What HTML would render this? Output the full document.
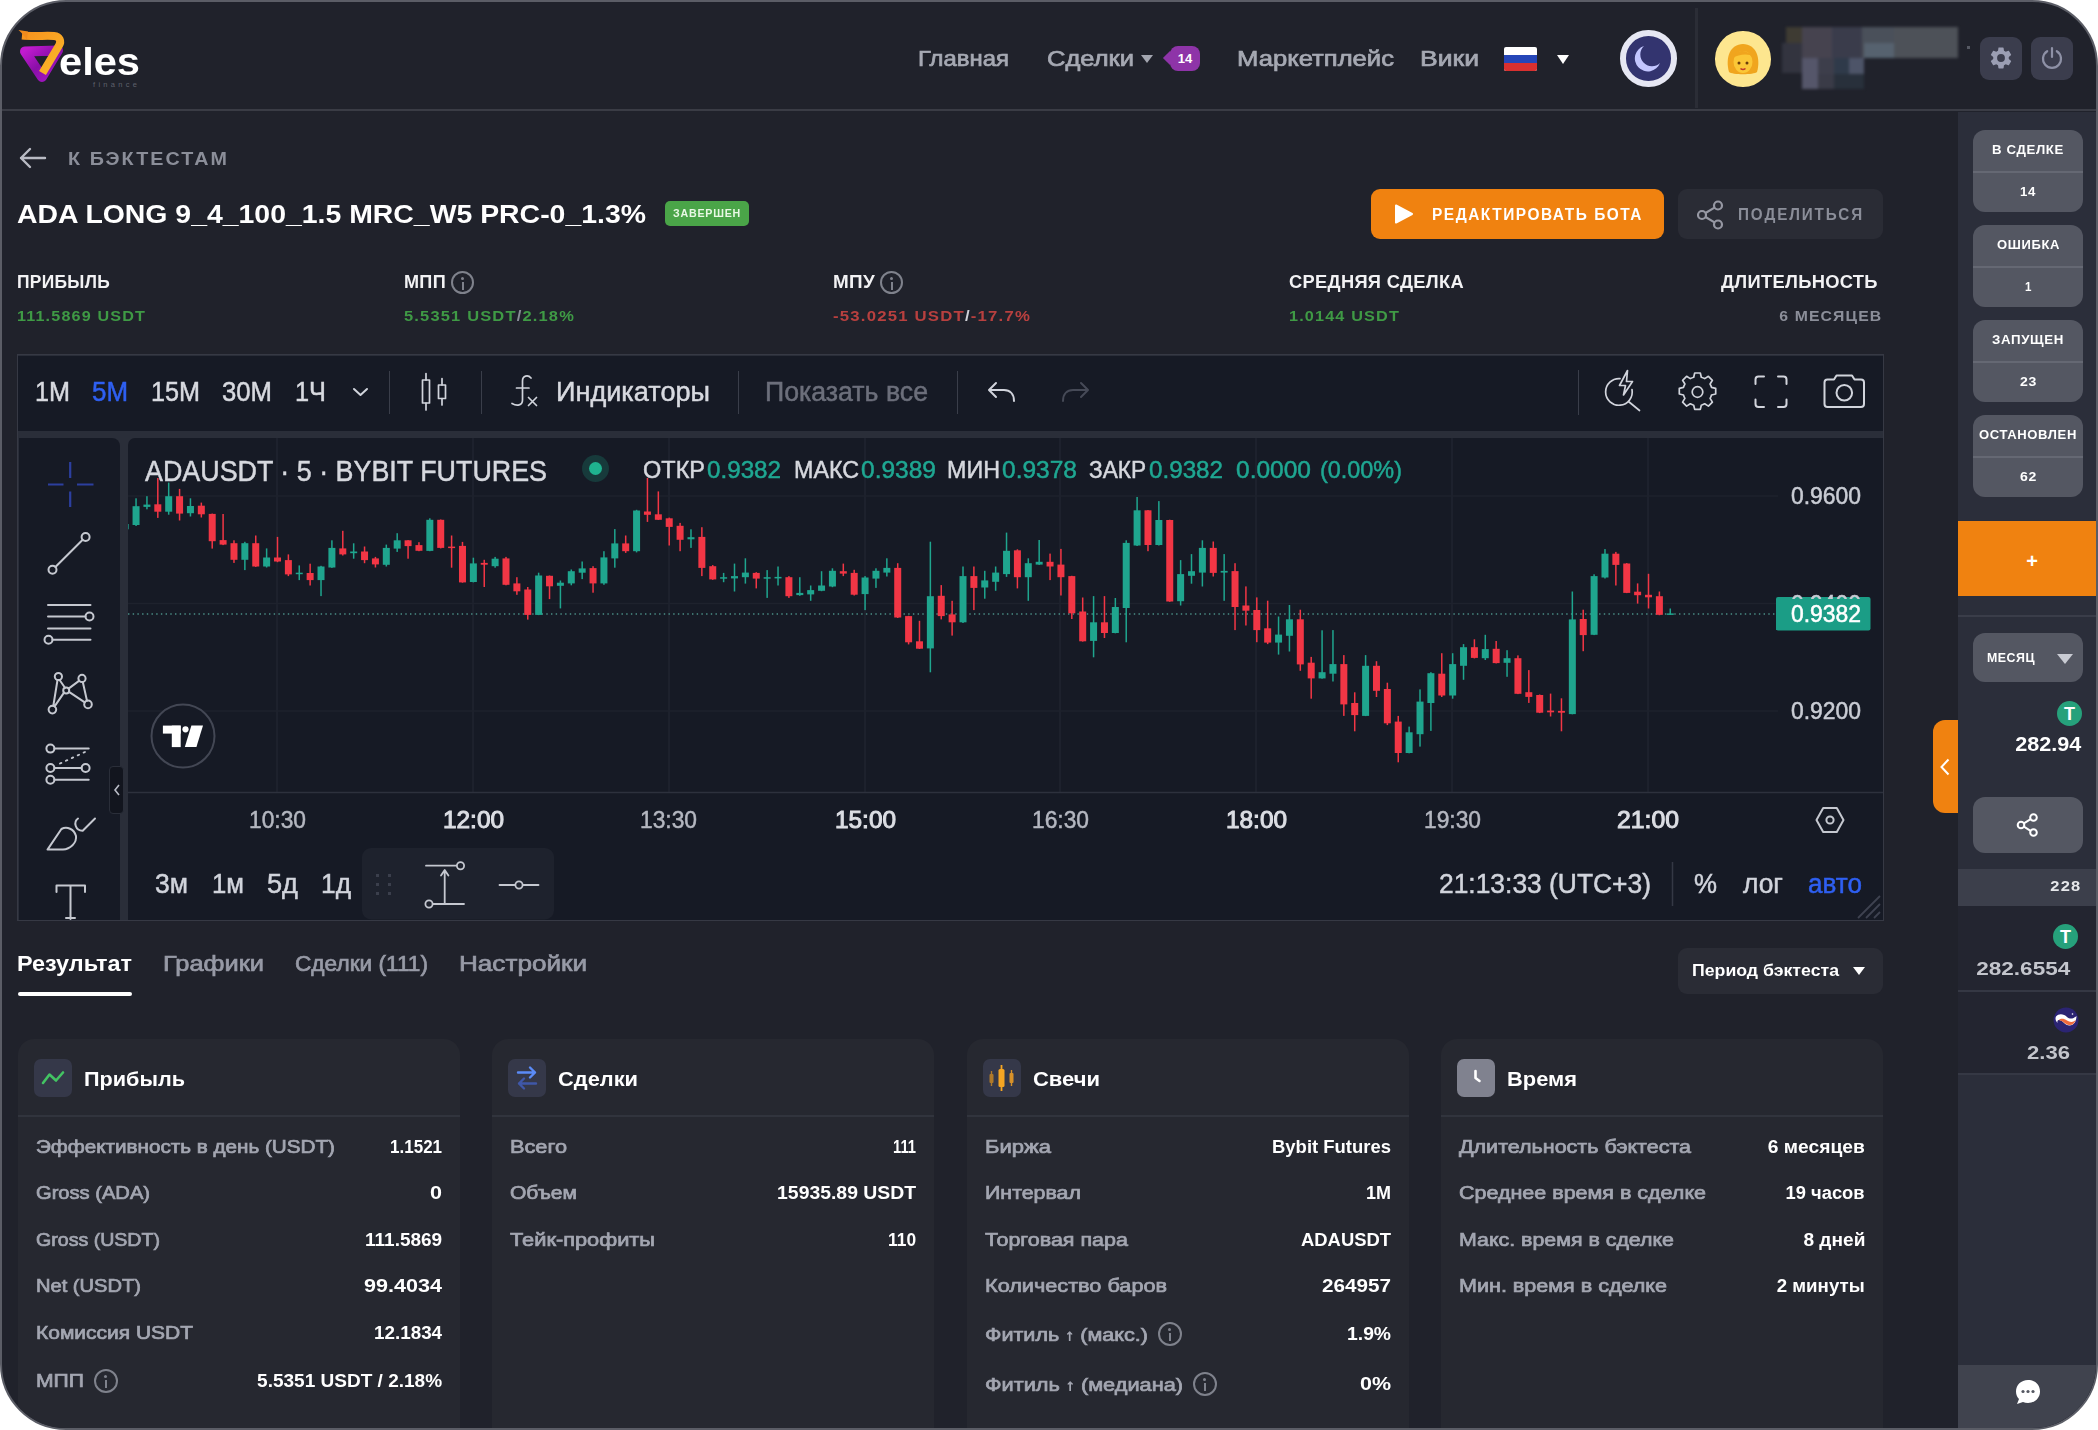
<!DOCTYPE html>
<html lang="ru">
<head>
<meta charset="utf-8">
<title>Veles Finance — бэктест</title>
<style>
*{box-sizing:border-box;margin:0;padding:0}
html,body{width:2098px;height:1430px;background:#fff;overflow:hidden}
body{font-family:"Liberation Sans",sans-serif;color:#fff;position:relative}
#frame{position:absolute;left:0;top:0;width:2098px;height:1430px;border-radius:66px;background:#20222b;border:2px solid #5b5d66;overflow:hidden}
#app{position:absolute;left:-2px;top:-2px;width:2098px;height:1430px}
.abs{position:absolute}
.t{position:absolute;white-space:nowrap;line-height:1}
/* header */
#hdr{position:absolute;left:0;top:0;width:2098px;height:111px;border-bottom:2px solid #3a3c45}
.nav{font-size:22px;color:#a6a9b3;font-weight:400;-webkit-text-stroke:.7px currentColor;top:48px}
/* sidebar */
#side{position:absolute;left:1958px;top:112px;width:140px;height:1320px;background:#2b2e3a}
.pill{position:absolute;left:15px;width:110px;height:82px;border-radius:12px;background:#545762;overflow:hidden}
.pill i{position:absolute;left:0;top:41px;width:100%;height:2px;background:#656873}
.pill b,.pill s{position:absolute;left:50%;white-space:nowrap;font-size:12.5px;font-weight:700;letter-spacing:.6px;text-decoration:none;color:#fff;line-height:1}
.pill b{top:14px}.pill s{top:56px}
/* stats */
.sl{font-size:17.5px;font-weight:700;color:#f2f2f4;letter-spacing:.3px;top:274px}
.sv{font-size:15.5px;font-weight:700;letter-spacing:1.1px;top:308px;color:#3f9a45}
.info{position:absolute;width:23px;height:23px;border:2px solid #7f828c;border-radius:50%}
.info:before{content:"";position:absolute;left:8px;top:4px;width:3px;height:3px;background:#7f828c;border-radius:50%}
.info:after{content:"";position:absolute;left:8.5px;top:8.5px;width:2px;height:8px;background:#7f828c}
/* chart */
#chart{position:absolute;left:17px;top:354px;width:1867px;height:567px;background:#2a2e39;border:1px solid #363944}
#tb{position:absolute;left:0;top:1px;width:1865px;height:75px;background:#161a25}
.tbt{font-size:27px;color:#d8dae0;top:23px;transform-origin:0 50%}
.sep{position:absolute;width:1px;background:#3a3e4a}
#tools{position:absolute;left:1px;top:83px;width:101px;height:482px;background:#161a25;border-radius:0 8px 0 0}
#pane{position:absolute;left:110px;top:83px;width:1755px;height:482px;background:#161a25;overflow:hidden;border-radius:7px 0 0 0}
.pt,.lg,.pa,.ta,.bb,.tbt{-webkit-text-stroke:.5px currentColor}
.lg{font-size:24px;color:#d6d8de;top:20px}
.lg.v{color:#1fa792}
.pa{font-size:23px;color:#c9ccd4;margin-top:.5px}
.ta{font-size:24px;color:#b4b7c0;top:370px}
.ta.hb{color:#dcdee4;-webkit-text-stroke:1px currentColor}
.bb{font-size:27px;color:#d1d4dc;top:433px}
/* tabs */
.tab{font-size:22px;font-weight:400;-webkit-text-stroke:.7px currentColor;color:#979aa6;top:953px}
/* cards */
.card{position:absolute;top:1040px;width:442px;height:420px;background:#262830;border-radius:16px}
.card:before{content:"";position:absolute;left:0;right:0;top:-1.5px;height:40px;background:#262830;border-radius:16px 16px 0 0}
.card .ic{position:absolute;left:16px;top:19px;width:38px;height:38px;border-radius:7px;background:#353849}
.card h3{position:absolute;left:66px;top:28px;font-size:21px;font-weight:700;line-height:1;color:#fff;white-space:nowrap}
.card .hr{position:absolute;left:0;top:75px;width:100%;height:2px;background:#31343d}
.row{position:absolute;left:18px;right:18px;margin-top:1px;height:24px;line-height:25px;font-size:18px;font-weight:700;white-space:nowrap}
.row span{position:absolute;left:0;color:#a3a6b1;font-weight:400;-webkit-text-stroke:.7px currentColor}
.row b{position:absolute;right:0;color:#fff;font-weight:700}
.row .info{width:24px;height:24px;top:0}
</style>
</head>
<body>
<div id="frame"><div id="app">

<!-- ================= HEADER ================= -->
<div id="hdr">
<svg class="abs" style="left:14px;top:24px" width="60" height="66" viewBox="0 0 60 66">
<defs>
<linearGradient id="lgp" x1="0" y1="0" x2="1" y2="1"><stop offset="0" stop-color="#c21bd0"/><stop offset=".5" stop-color="#8a0fa8"/><stop offset="1" stop-color="#a516c4"/></linearGradient>
<linearGradient id="lgo" x1="0" y1="0" x2="1" y2="1"><stop offset="0" stop-color="#f7931e"/><stop offset="1" stop-color="#fbb829"/></linearGradient>
</defs>
<path d="M11 27.5 L44 26.5 L28 53 Z" fill="none" stroke="url(#lgp)" stroke-width="10" stroke-linejoin="round"/>
<path d="M8 11.5 C18 12.5 33 11.5 40 12 C46 12.5 47.5 17.5 45 21.5 L28.5 49" fill="none" stroke="url(#lgo)" stroke-width="8" stroke-linecap="butt" stroke-linejoin="round"/>
<path d="M4.500 6 C8 9 10 12 13 15.500 L14 7.500 Z" fill="#f08a1c"/>
</svg>
<div class="t" style="transform:scaleX(1.0671);transform-origin:0 50%;left:59px;top:42px;font-size:39px;font-weight:700;color:#fff">eles</div>
<div class="t" style="left:93px;top:81px;font-size:7.5px;letter-spacing:3.3px;color:#5f616c">finance</div>

<div class="t nav" style="transform:scaleX(1.0866);transform-origin:0 50%;left:918px">Главная</div>
<div class="t nav" style="transform:scaleX(1.1602);transform-origin:0 50%;left:1047px">Сделки</div>
<div class="abs" style="left:1141px;top:55px;width:0;height:0;border-left:6.5px solid transparent;border-right:6.5px solid transparent;border-top:8px solid #a3a6b0"></div>
<div class="abs" style="left:1165px;top:53px;width:10px;height:10px;background:#8e34a8;transform:rotate(45deg)"></div>
<div class="abs" style="left:1170px;top:46px;width:30px;height:25px;border-radius:8px;background:#8e34a8"></div>
<div class="t" style="left:1170px;top:52px;width:30px;text-align:center;font-size:13px;font-weight:700;color:#fff">14</div>
<div class="t nav" style="transform:scaleX(1.1649);transform-origin:0 50%;left:1237px">Маркетплейс</div>
<div class="t nav" style="transform:scaleX(1.2068);transform-origin:0 50%;left:1420px">Вики</div>
<div class="abs" style="left:1504px;top:47px;width:33px;height:24px;border-radius:2px;overflow:hidden;background:#fff">
<div class="abs" style="left:0;top:8px;width:33px;height:8px;background:#2546b8"></div>
<div class="abs" style="left:0;top:16px;width:33px;height:8px;background:#d8302f"></div></div>
<div class="abs" style="left:1557px;top:55px;width:0;height:0;border-left:6.5px solid transparent;border-right:6.5px solid transparent;border-top:9px solid #fff"></div>

<div class="abs" style="left:1620px;top:30px;width:56.500px;height:56.500px;border-radius:50%;background:#33346f;border:6.500px solid #e6e7f3"></div>
<svg class="abs" style="left:1629px;top:37.500px" width="40" height="40" viewBox="0 0 40 40"><path d="M15 8 A13 13 0 1 0 31 25 A11.5 11.5 0 0 1 15 8 Z" fill="#c3c6ff"/></svg>
<div class="abs" style="left:1694.500px;top:8px;width:3px;height:100px;background:#2b2d36"></div>
<div class="abs" style="left:1715px;top:31px;width:55.500px;height:55.500px;border-radius:50%;background:#fde68f"></div>
<svg class="abs" style="left:1724px;top:38px" width="38" height="40" viewBox="0 0 38 40">
<path d="M5 34 C1 20 6 6 19 6 C32 6 37 20 33 34 C30 37 8 37 5 34 Z" fill="#f0a51e"/>
<ellipse cx="19" cy="24" rx="9.5" ry="11" fill="#fbc737"/>
<path d="M9 20 C12 12 22 10 29 19 C26 15 14 16 9 20 Z" fill="#f0a51e"/>
<circle cx="15" cy="25" r="1.5" fill="#6b3d0c"/><circle cx="23" cy="25" r="1.5" fill="#6b3d0c"/>
<path d="M16.5 30.5 Q19 32.5 21.5 30.5" stroke="#c0392b" stroke-width="1.6" fill="none"/>
</svg>
<!-- blurred (pixelated) user name -->
<div class="abs" style="left:0;top:0;width:2098px;height:110px;filter:blur(1.6px)">
<div class="abs" style="left:1786px;top:27px;width:172px;height:31px;background:#4b4e57"></div>
<div class="abs" style="left:1786px;top:27px;width:16px;height:31px;background:#3e3b33"></div>
<div class="abs" style="left:1802px;top:27px;width:30px;height:31px;background:#46434f"></div>
<div class="abs" style="left:1832px;top:27px;width:30px;height:31px;background:#3a3c4b"></div>
<div class="abs" style="left:1862px;top:27px;width:32px;height:16px;background:#4a505a"></div>
<div class="abs" style="left:1864px;top:43px;width:30px;height:15px;background:#56626f"></div>
<div class="abs" style="left:1894px;top:27px;width:64px;height:31px;background:#4d5158"></div>
<div class="abs" style="left:1782px;top:43px;width:20px;height:30px;background:#33343f"></div>
<div class="abs" style="left:1802px;top:58px;width:62px;height:16px;background:#42434f"></div>
<div class="abs" style="left:1802px;top:58px;width:16px;height:31px;background:#55566a"></div>
<div class="abs" style="left:1818px;top:58px;width:16px;height:16px;background:#3d3e4b"></div>
<div class="abs" style="left:1834px;top:58px;width:15px;height:16px;background:#2f3a4a"></div>
<div class="abs" style="left:1849px;top:58px;width:15px;height:16px;background:#4d5468"></div>
<div class="abs" style="left:1818px;top:74px;width:16px;height:15px;background:#3a3b47"></div>
<div class="abs" style="left:1834px;top:74px;width:30px;height:15px;background:#28303b"></div>
</div>
<div class="abs" style="left:1967px;top:46px;width:3px;height:3px;background:#555862"></div>
<!-- gear / power -->
<div class="abs" style="left:1980px;top:37px;width:42px;height:43px;border-radius:9px;background:#3b3d4d"></div>
<svg class="abs" style="left:1988px;top:45px" width="26" height="26" viewBox="0 0 24 24"><path fill="#9b9eb3" d="M19.14 12.94c.04-.3.06-.61.06-.94 0-.32-.02-.64-.07-.94l2.03-1.58a.49.49 0 0 0 .12-.61l-1.92-3.32a.49.49 0 0 0-.59-.22l-2.39.96c-.5-.38-1.03-.7-1.62-.94l-.36-2.54a.48.48 0 0 0-.48-.41h-3.84c-.24 0-.43.17-.47.41l-.36 2.54c-.59.24-1.13.57-1.62.94l-2.39-.96a.48.48 0 0 0-.59.22L2.74 8.87c-.12.21-.08.47.12.61l2.03 1.58c-.05.3-.09.63-.09.94s.02.64.07.94l-2.03 1.58a.49.49 0 0 0-.12.61l1.92 3.32c.12.22.37.29.59.22l2.39-.96c.5.38 1.03.7 1.62.94l.36 2.54c.05.24.24.41.48.41h3.84c.24 0 .44-.17.47-.41l.36-2.54c.59-.24 1.13-.56 1.62-.94l2.39.96c.22.08.47 0 .59-.22l1.92-3.32c.12-.22.07-.47-.12-.61l-2.01-1.58zM12 15.6A3.6 3.6 0 1 1 12 8.4a3.6 3.6 0 0 1 0 7.2z"/></svg>
<div class="abs" style="left:2031px;top:37px;width:42px;height:43px;border-radius:9px;background:#3b3d4d"></div>
<svg class="abs" style="left:2039px;top:45px" width="26" height="26" viewBox="0 0 26 26"><path d="M8.2 6.2 A9 9 0 1 0 17.8 6.2" fill="none" stroke="#8e91a6" stroke-width="2.2" stroke-linecap="round"/><path d="M13 3 V12" stroke="#8e91a6" stroke-width="2.2" stroke-linecap="round"/></svg>

</div>

<!-- ================= SIDEBAR ================= -->
<div id="side">
<div class="pill" style="top:18px"><b style="transform:scaleX(1.0564);transform-origin:0 50%;margin-left:-36.0px">В СДЕЛКЕ</b><i></i><s style="transform:scaleX(1.0589);transform-origin:0 50%;margin-left:-8.0px">14</s></div>
<div class="pill" style="top:113px"><b style="transform:scaleX(1.0411);transform-origin:0 50%;margin-left:-31.5px">ОШИБКА</b><i></i><s style="transform:scaleX(0.9256);transform-origin:0 50%;margin-left:-3.5px">1</s></div>
<div class="pill" style="top:208px"><b style="transform:scaleX(1.0625);transform-origin:0 50%;margin-left:-36.0px">ЗАПУЩЕН</b><i></i><s style="transform:scaleX(1.1251);transform-origin:0 50%;margin-left:-8.5px">23</s></div>
<div class="pill" style="top:303px"><b style="transform:scaleX(1.0434);transform-origin:0 50%;margin-left:-49.0px">ОСТАНОВЛЕН</b><i></i><s style="transform:scaleX(1.1251);transform-origin:0 50%;margin-left:-8.5px">62</s></div>
<div class="abs" style="left:0;top:409px;width:140px;height:75px;background:#f08210"></div>
<div class="t" style="left:0;top:439px;width:148px;text-align:center;font-size:20px;font-weight:700;color:#fff">+</div>
<div class="abs" style="left:0;top:503px;width:140px;height:2px;background:#3a3d49"></div>
<div class="abs" style="left:15px;top:521px;width:110px;height:49px;border-radius:12px;background:#545762"></div>
<div class="t" style="transform:scaleX(1.0309);transform-origin:0 50%;left:29px;top:540px;font-size:12px;font-weight:700;letter-spacing:.5px;color:#fff">МЕСЯЦ</div>
<div class="abs" style="left:99px;top:542px;width:0;height:0;border-left:8px solid transparent;border-right:8px solid transparent;border-top:10px solid #c9cbd3"></div>
<div class="abs" style="left:99px;top:589px;width:25px;height:25px;border-radius:50%;background:#26a17b"></div>
<div class="t" style="left:99px;top:593px;width:25px;text-align:center;font-size:18px;font-weight:700;color:#fff">T</div>
<div class="t" style="transform:scaleX(1.0789);transform-origin:100% 50%;right:17px;top:622px;font-size:20px;font-weight:700;color:#fff">282.94</div>
<div class="abs" style="left:15px;top:685px;width:110px;height:56px;border-radius:12px;background:#545762"></div>
<svg class="abs" style="left:56px;top:699px" width="28" height="28" viewBox="0 0 28 28" fill="none" stroke="#fff" stroke-width="2"><circle cx="19.5" cy="6.5" r="3.3"/><circle cx="7" cy="14" r="3.3"/><circle cx="19.5" cy="21.5" r="3.3"/><path d="M9.9 12.3 L16.6 8.2 M9.9 15.7 L16.6 19.8"/></svg>
<div class="abs" style="left:0;top:757px;width:140px;height:37px;background:#3c3f4b"></div>
<div class="t" style="transform:scaleX(1.1761);transform-origin:100% 50%;right:17px;top:767px;font-size:14px;font-weight:700;letter-spacing:1px;color:#e6e7ea">228</div>
<div class="abs" style="left:0;top:794px;width:140px;height:168px;background:#232530"></div>
<div class="abs" style="left:95px;top:812px;width:25px;height:25px;border-radius:50%;background:#26a17b"></div>
<div class="t" style="left:95px;top:816px;width:25px;text-align:center;font-size:18px;font-weight:700;color:#fff">T</div>
<div class="t" style="transform:scaleX(1.1861);transform-origin:100% 50%;right:28px;top:847px;font-size:19px;font-weight:700;color:#c3c5cc">282.6554</div>
<div class="abs" style="left:0;top:878px;width:140px;height:2px;background:#353844"></div>
<svg class="abs" style="left:95px;top:895px" width="26" height="26" viewBox="0 0 26 26"><circle cx="13" cy="13" r="12.500" fill="#2b2473"/><path d="M3 9.500 C6 6 11 7 14 10 C17 12.500 20 12 23.500 9 C23.500 14 21 18.500 16.500 18.500 C12 18.500 10 13.500 6.500 13 C5 12.800 4 13.500 4.500 16 C2.500 13.500 2 11.500 3 9.500 Z" fill="#fff"/><path d="M5.500 13.200 C9 12.500 11.500 17 16 18 C19 18.600 21.500 16.500 22.800 13 C20 15.500 17 15.500 14 13.500 C11 11.500 8 11 5.500 13.200 Z" fill="#ef6a3c"/><circle cx="19.500" cy="7" r=".8" fill="#fff"/></svg>
<div class="t" style="transform:scaleX(1.1627);transform-origin:100% 50%;right:28px;top:931px;font-size:19px;font-weight:700;color:#c3c5cc">2.36</div>
<div class="abs" style="left:0;top:961px;width:140px;height:2px;background:#353844"></div>
<div class="abs" style="left:0;top:1253px;width:140px;height:70px;background:#40434e"></div>
<svg class="abs" style="left:56px;top:1266px" width="28" height="28" viewBox="0 0 28 28"><path d="M14 2 C7 2 2 7 2 13.5 C2 16.5 3.2 19.2 5 21 L3 26 L9 24 C10.5 24.7 12.2 25 14 25 C21 25 26 20 26 13.5 C26 7 21 2 14 2 Z" fill="#fff"/><circle cx="9" cy="13.5" r="1.6" fill="#555862"/><circle cx="14" cy="13.5" r="1.6" fill="#555862"/><circle cx="19" cy="13.5" r="1.6" fill="#555862"/></svg>

</div>

<!-- ================= TITLE / STATS ================= -->
<!-- orange side-tab -->
<div class="abs" style="left:1933px;top:720px;width:25px;height:93px;border-radius:12px 0 0 12px;background:#f08210"></div>
<svg class="abs" style="left:1938px;top:757px" width="14" height="20" viewBox="0 0 14 20"><path d="M10.5 2.5 L3.5 10 L10.5 17.5" fill="none" stroke="#fff" stroke-width="2"/></svg>
<!-- back -->
<svg class="abs" style="left:18px;top:146px" width="30" height="24" viewBox="0 0 30 24"><path d="M27 12 H3 M12 3 L3 12 L12 21" fill="none" stroke="#b9bbc4" stroke-width="2.4" stroke-linecap="round" stroke-linejoin="round"/></svg>
<div class="t" style="transform:scaleX(1.0378);transform-origin:0 50%;left:68px;top:149px;font-size:19px;font-weight:700;letter-spacing:2px;color:#8b8e99">К БЭКТЕСТАМ</div>
<div class="t" style="transform:scaleX(1.0721);transform-origin:0 50%;left:17px;top:200.5px;font-size:26.5px;font-weight:700;color:#fff">ADA LONG 9_4_100_1.5 MRC_W5 PRC-0_1.3%</div>
<div class="abs" style="left:665px;top:201px;width:84px;height:25px;border-radius:5px;background:#4aa548"></div>
<div class="t" style="transform:scaleX(0.9688);transform-origin:0 50%;left:673px;top:208px;font-size:11px;font-weight:700;letter-spacing:.8px;color:#e8f8e4">ЗАВЕРШЕН</div>
<!-- buttons -->
<div class="abs" style="left:1371px;top:189px;width:293px;height:50px;border-radius:9px;background:#f08210"></div>
<svg class="abs" style="left:1393px;top:203px" width="22" height="22" viewBox="0 0 22 22"><path d="M3 2.5 L19 11 L3 19.5 Z" fill="#fff" stroke="#fff" stroke-width="2" stroke-linejoin="round"/></svg>
<div class="t" style="transform:scaleX(0.9637);transform-origin:0 50%;left:1432px;top:207px;font-size:16px;font-weight:700;letter-spacing:1.6px;color:#fff">РЕДАКТИРОВАТЬ БОТА</div>
<div class="abs" style="left:1678px;top:189px;width:205px;height:50px;border-radius:9px;background:#2a2c35"></div>
<svg class="abs" style="left:1695px;top:199px" width="32" height="32" viewBox="0 0 32 32" fill="none" stroke="#9698a3" stroke-width="2.2"><circle cx="23" cy="6.5" r="4"/><circle cx="7" cy="16" r="4"/><circle cx="23" cy="25.5" r="4"/><path d="M10.5 14 L19.5 8.6 M10.5 18 L19.5 23.4"/></svg>
<div class="t" style="transform:scaleX(0.9512);transform-origin:0 50%;left:1738px;top:207px;font-size:16px;font-weight:700;letter-spacing:2px;color:#8b8e99">ПОДЕЛИТЬСЯ</div>
<!-- stats -->
<div class="t sl" style="transform:scaleX(0.9947);transform-origin:0 50%;left:17px">ПРИБЫЛЬ</div>
<div class="t sv" style="transform:scaleX(1.0424);transform-origin:0 50%;left:17px">111.5869 USDT</div>
<div class="t sl" style="transform:scaleX(1.0334);transform-origin:0 50%;left:404px">МПП</div><div class="info" style="left:451px;top:271px"></div>
<div class="t sv" style="transform:scaleX(1.0628);transform-origin:0 50%;left:404px">5.5351 USDT<span style="color:#8b8e99">/</span>2.18%</div>
<div class="t sl" style="transform:scaleX(1.0782);transform-origin:0 50%;left:833px">МПУ</div><div class="info" style="left:880px;top:271px"></div>
<div class="t sv" style="transform:scaleX(1.0811);transform-origin:0 50%;left:833px;color:#b8403f">-53.0251 USDT<span style="color:#d0d2d8">/</span>-17.7%</div>
<div class="t sl" style="transform:scaleX(1.0451);transform-origin:0 50%;left:1289px">СРЕДНЯЯ СДЕЛКА</div>
<div class="t sv" style="transform:scaleX(1.0470);transform-origin:0 50%;left:1289px">1.0144 USDT</div>
<div class="t sl" style="transform:scaleX(1.0475);transform-origin:100% 50%;right:220px">ДЛИТЕЛЬНОСТЬ</div>
<div class="t sv" style="transform:scaleX(1.0171);transform-origin:100% 50%;right:216px;color:#8b8e99">6 МЕСЯЦЕВ</div>


<!-- ================= CHART ================= -->
<div id="chart">
<div id="tb">
<div class="t tbt" style="transform:scaleX(0.9329);transform-origin:0 50%;left:17px">1М</div>
<div class="t tbt" style="transform:scaleX(0.9596);transform-origin:0 50%;left:74px;color:#2f60f2">5М</div>
<div class="t tbt" style="transform:scaleX(0.9328);transform-origin:0 50%;left:133px">15М</div>
<div class="t tbt" style="transform:scaleX(0.9518);transform-origin:0 50%;left:204px">30М</div>
<div class="t tbt" style="transform:scaleX(0.9389);transform-origin:0 50%;left:277px">1Ч</div>
<div class="t tbt" style="transform:scaleX(1.0034);transform-origin:0 50%;left:538px">Индикаторы</div>
<div class="t tbt" style="transform:scaleX(0.9888);transform-origin:0 50%;left:747px;color:#6c6f7b">Показать все</div>
<div class="sep" style="left:371px;top:15px;height:43px"></div>
<div class="sep" style="left:463px;top:15px;height:43px"></div>
<div class="sep" style="left:720px;top:15px;height:43px"></div>
<div class="sep" style="left:939px;top:15px;height:43px"></div>
<div class="sep" style="left:1560px;top:14px;height:45px"></div>
<svg class="abs" style="left:0;top:0" width="1865" height="75" viewBox="18 356 1865 75" fill="none" stroke="#d1d4dc" stroke-width="1.7" stroke-linecap="round" stroke-linejoin="round">
<path d="M354 389 L360.5 395 L367 389" stroke-width="2"/>
<!-- candles icon -->
<rect x="422.5" y="380" width="7" height="23" /><path d="M426 373.5 V380 M426 403 V410"/>
<rect x="438.5" y="385" width="7" height="13.500"/><path d="M442 378.500 V385 M442 398.500 V405"/>
<!-- fx -->
<path d="M531 378 C528 374.500 522.500 375.500 522.500 381 V400 C522.500 405.500 517 406.500 512 403.500 M516.500 388 H529"/>
<path d="M528.500 397.500 L536.500 405.500 M536.500 397.500 L528.500 405.500"/>
<!-- undo / redo -->
<path d="M996 383 L989 390 L996 397 M989.500 390 H1004 C1010 390 1014 394 1014 401" stroke-width="2"/>
<path d="M1081 383 L1088 390 L1081 397 M1087.500 390 H1073 C1067 390 1063 394 1063 401" stroke="#464a57" stroke-width="2"/>
<!-- quick search -->
<path d="M1620 378.700 A13.300 13.300 0 1 0 1632 389.500 M1628.500 401.500 L1639.500 410.500"/>
<path d="M1627.500 370.500 L1619.500 385.500 H1625.500 L1623.500 395 L1632.500 381.500 H1626.500 Z" fill="#161a25"/>
<!-- gear -->
<path d="M1694.7 373 h5.600 l1 4.200 a15 15 0 0 1 3.400 1.400 l3.700 -2.300 l4 4 l-2.300 3.700 a15 15 0 0 1 1.400 3.400 l4.200 1 v5.600 l-4.200 1 a15 15 0 0 1 -1.400 3.400 l2.300 3.700 l-4 4 l-3.700 -2.300 a15 15 0 0 1 -3.400 1.400 l-1 4.200 h-5.600 l-1 -4.200 a15 15 0 0 1 -3.400 -1.400 l-3.700 2.300 l-4 -4 l2.300 -3.700 a15 15 0 0 1 -1.400 -3.400 l-4.200 -1 v-5.600 l4.200 -1 a15 15 0 0 1 1.400 -3.400 l-2.300 -3.700 l4 -4 l3.700 2.300 a15 15 0 0 1 3.400 -1.400 z"/>
<circle cx="1697.500" cy="392" r="5.300"/>
<!-- fullscreen -->
<path d="M1755.500 384 V379.500 Q1755.500 376.500 1758.500 376.500 H1764 M1778 376.500 H1783.500 Q1786.500 376.500 1786.500 379.500 V384 M1786.500 399.500 V404 Q1786.500 407 1783.500 407 H1778 M1764 407 H1758.500 Q1755.500 407 1755.500 404 V399.500" stroke-width="2"/>
<!-- camera -->
<path d="M1827.500 379.500 H1834 L1836.500 375.500 H1852 L1854.500 379.500 H1861 Q1864 379.500 1864 382.500 V404 Q1864 407 1861 407 H1827.500 Q1824.500 407 1824.500 404 V382.500 Q1824.500 379.500 1827.500 379.500 Z" stroke-width="2"/>
<circle cx="1844.300" cy="392.700" r="7.800" stroke-width="2"/>
</svg>

</div>
<div id="tools">
<svg class="abs" style="left:0;top:0" width="100" height="482" viewBox="19 438 100 482" fill="none" stroke="#c5c8d0" stroke-width="2" stroke-linecap="round" stroke-linejoin="round">
<path d="M70.200 462 V478 M70.200 491.500 V507 M48 484.500 H63.500 M77 484.500 H93.500" stroke="#2c3f9f" stroke-width="2.2" stroke-linecap="butt"/>
<circle cx="85.600" cy="537" r="4"/><circle cx="52.500" cy="569.800" r="4"/><path d="M55.400 567 L82.700 539.800"/>
<path d="M48 605 H90.500 M48 616.500 H85.500 M48 628.400 H90.500 M52.500 639.800 H90.500"/><circle cx="89.500" cy="616.500" r="4"/><circle cx="48.500" cy="639.800" r="4"/>
<circle cx="58.400" cy="676.500" r="3.600"/><circle cx="82" cy="678.400" r="3.600"/><circle cx="66.200" cy="690.400" r="3"/><circle cx="52.400" cy="709.600" r="3.800"/><circle cx="88" cy="704.400" r="3.800"/>
<path d="M57.500 680 L53.300 706 M59.600 680 L65 687.800 M68.600 688.600 L79.300 680.600 M82.800 682 L87 700.800 M69 691.800 L84.800 702.400 M64 692.600 L54.600 706.400"/>
<circle cx="50.400" cy="748.600" r="4"/><path d="M54.400 748.600 H88.700"/><circle cx="50.400" cy="768" r="4"/><circle cx="85.600" cy="768" r="4"/><path d="M54.400 768 H81.600"/><circle cx="50.400" cy="779.700" r="4"/><path d="M54.400 779.700 H88.700"/>
<path d="M60 763.500 L85 752" stroke-dasharray="1.500 5" stroke-width="1.800"/>
<path d="M47.500 849.600 L61.400 829 C67 826 74 829 76 836 C77 843 70 849 63 849.600 Z"/>
<path d="M78 818.500 C73 822 75.500 831 82.700 830.800 L95 818.500"/>
<path d="M56.500 892 V885.600 H85 V892 M70.500 885.600 V919 M66 918 H75" stroke-width="2"/>
</svg>

</div>
<div class="abs" style="left:91px;top:411px;width:15px;height:48px;border-radius:4px;background:#12151e;border:1px solid #2a2e39;z-index:3"></div>
<svg class="abs" style="left:94px;top:427px;z-index:4" width="10" height="16" viewBox="0 0 10 16"><path d="M7 3 L3 8 L7 13" fill="none" stroke="#b9bcc6" stroke-width="1.600"/></svg>
<div id="pane">
<svg class="abs" style="left:0;top:0" width="1755" height="482" viewBox="128 438 1755 482">
<g stroke="#222632" stroke-width="1.3">
<path d="M277 438V792M473 438V792M669 438V792M865 438V792M1060 438V792M1256 438V792M1452 438V792M1648 438V792"/>
<path d="M128 496H1778M128 603.500H1778M128 711H1778" stroke="#1e222d"/>
</g>
<path d="M128 792.500H1883" stroke="#2d313d" stroke-width="1.500"/>
<path d="M128 614H1776" stroke="#4b8f87" stroke-width="1.300" stroke-dasharray="1.400 3.300"/>
<g>
<rect x="124.42" y="522.6" width="1.5" height="8.2" fill="#1fa58e"/>
<rect x="121.67" y="524.0" width="7" height="5.3" fill="#1fa58e"/>
<rect x="135.30" y="498.3" width="1.5" height="27.7" fill="#1fa58e"/>
<rect x="132.55" y="506.2" width="7" height="18.8" fill="#1fa58e"/>
<rect x="146.18" y="496.2" width="1.5" height="13.1" fill="#1fa58e"/>
<rect x="143.43" y="504.6" width="7" height="2.3" fill="#1fa58e"/>
<rect x="157.06" y="478.0" width="1.5" height="39.9" fill="#f23645"/>
<rect x="154.31" y="504.3" width="7" height="7.4" fill="#f23645"/>
<rect x="167.94" y="482.6" width="1.5" height="32.1" fill="#1fa58e"/>
<rect x="165.19" y="496.2" width="7" height="15.5" fill="#1fa58e"/>
<rect x="178.82" y="488.9" width="1.5" height="31.6" fill="#f23645"/>
<rect x="176.07" y="496.2" width="7" height="17.4" fill="#f23645"/>
<rect x="189.70" y="498.3" width="1.5" height="18.2" fill="#1fa58e"/>
<rect x="186.95" y="506.0" width="7" height="7.2" fill="#1fa58e"/>
<rect x="200.58" y="502.6" width="1.5" height="14.9" fill="#f23645"/>
<rect x="197.83" y="505.7" width="7" height="8.6" fill="#f23645"/>
<rect x="211.46" y="513.6" width="1.5" height="35.0" fill="#f23645"/>
<rect x="208.71" y="513.9" width="7" height="27.3" fill="#f23645"/>
<rect x="222.34" y="514.0" width="1.5" height="31.1" fill="#f23645"/>
<rect x="219.59" y="540.1" width="7" height="4.5" fill="#f23645"/>
<rect x="233.23" y="540.3" width="1.5" height="22.6" fill="#f23645"/>
<rect x="230.48" y="543.2" width="7" height="16.6" fill="#f23645"/>
<rect x="244.11" y="541.8" width="1.5" height="28.3" fill="#1fa58e"/>
<rect x="241.36" y="543.2" width="7" height="16.6" fill="#1fa58e"/>
<rect x="254.99" y="535.5" width="1.5" height="31.4" fill="#f23645"/>
<rect x="252.24" y="543.2" width="7" height="23.3" fill="#f23645"/>
<rect x="265.87" y="548.4" width="1.5" height="19.1" fill="#1fa58e"/>
<rect x="263.12" y="557.5" width="7" height="9.0" fill="#1fa58e"/>
<rect x="276.75" y="536.9" width="1.5" height="25.3" fill="#f23645"/>
<rect x="274.00" y="557.5" width="7" height="4.0" fill="#f23645"/>
<rect x="287.63" y="554.4" width="1.5" height="21.7" fill="#f23645"/>
<rect x="284.88" y="560.1" width="7" height="14.3" fill="#f23645"/>
<rect x="298.51" y="565.4" width="1.5" height="14.7" fill="#1fa58e"/>
<rect x="295.76" y="572.7" width="7" height="1.5" fill="#1fa58e"/>
<rect x="309.39" y="563.7" width="1.5" height="21.8" fill="#f23645"/>
<rect x="306.64" y="573.0" width="7" height="7.1" fill="#f23645"/>
<rect x="320.27" y="565.8" width="1.5" height="30.3" fill="#1fa58e"/>
<rect x="317.52" y="566.5" width="7" height="13.6" fill="#1fa58e"/>
<rect x="331.15" y="540.3" width="1.5" height="27.6" fill="#1fa58e"/>
<rect x="328.40" y="547.9" width="7" height="19.6" fill="#1fa58e"/>
<rect x="342.04" y="530.8" width="1.5" height="24.7" fill="#f23645"/>
<rect x="339.29" y="548.4" width="7" height="6.0" fill="#f23645"/>
<rect x="352.92" y="543.3" width="1.5" height="15.4" fill="#1fa58e"/>
<rect x="350.17" y="551.5" width="7" height="1.7" fill="#1fa58e"/>
<rect x="363.80" y="546.5" width="1.5" height="16.7" fill="#f23645"/>
<rect x="361.05" y="551.5" width="7" height="8.6" fill="#f23645"/>
<rect x="374.68" y="556.9" width="1.5" height="10.6" fill="#f23645"/>
<rect x="371.93" y="558.4" width="7" height="6.0" fill="#f23645"/>
<rect x="385.56" y="544.6" width="1.5" height="21.9" fill="#1fa58e"/>
<rect x="382.81" y="547.9" width="7" height="16.9" fill="#1fa58e"/>
<rect x="396.44" y="533.2" width="1.5" height="18.7" fill="#1fa58e"/>
<rect x="393.69" y="540.3" width="7" height="8.3" fill="#1fa58e"/>
<rect x="407.32" y="540.1" width="1.5" height="18.6" fill="#f23645"/>
<rect x="404.57" y="540.3" width="7" height="5.8" fill="#f23645"/>
<rect x="418.20" y="542.2" width="1.5" height="9.0" fill="#f23645"/>
<rect x="415.45" y="545.1" width="7" height="5.7" fill="#f23645"/>
<rect x="429.08" y="518.3" width="1.5" height="32.9" fill="#1fa58e"/>
<rect x="426.33" y="519.8" width="7" height="31.1" fill="#1fa58e"/>
<rect x="439.97" y="519.5" width="1.5" height="28.9" fill="#f23645"/>
<rect x="437.22" y="519.8" width="7" height="28.1" fill="#f23645"/>
<rect x="450.85" y="535.5" width="1.5" height="32.2" fill="#f23645"/>
<rect x="448.10" y="546.6" width="7" height="1.5" fill="#f23645"/>
<rect x="461.73" y="541.9" width="1.5" height="40.8" fill="#f23645"/>
<rect x="458.98" y="545.9" width="7" height="36.5" fill="#f23645"/>
<rect x="472.61" y="557.7" width="1.5" height="24.7" fill="#1fa58e"/>
<rect x="469.86" y="563.4" width="7" height="18.6" fill="#1fa58e"/>
<rect x="483.49" y="559.8" width="1.5" height="27.2" fill="#f23645"/>
<rect x="480.74" y="562.9" width="7" height="1.8" fill="#f23645"/>
<rect x="494.37" y="556.9" width="1.5" height="10.8" fill="#1fa58e"/>
<rect x="491.62" y="558.7" width="7" height="7.5" fill="#1fa58e"/>
<rect x="505.25" y="556.9" width="1.5" height="28.4" fill="#f23645"/>
<rect x="502.50" y="558.4" width="7" height="26.4" fill="#f23645"/>
<rect x="516.13" y="577.2" width="1.5" height="17.6" fill="#f23645"/>
<rect x="513.38" y="583.4" width="7" height="7.9" fill="#f23645"/>
<rect x="527.01" y="587.0" width="1.5" height="32.6" fill="#f23645"/>
<rect x="524.26" y="589.5" width="7" height="25.4" fill="#f23645"/>
<rect x="537.89" y="572.7" width="1.5" height="42.4" fill="#1fa58e"/>
<rect x="535.14" y="575.5" width="7" height="39.4" fill="#1fa58e"/>
<rect x="548.77" y="575.5" width="1.5" height="23.6" fill="#f23645"/>
<rect x="546.02" y="575.8" width="7" height="10.5" fill="#f23645"/>
<rect x="559.66" y="580.5" width="1.5" height="27.9" fill="#1fa58e"/>
<rect x="556.91" y="582.7" width="7" height="3.1" fill="#1fa58e"/>
<rect x="570.54" y="569.5" width="1.5" height="15.8" fill="#1fa58e"/>
<rect x="567.79" y="571.2" width="7" height="12.2" fill="#1fa58e"/>
<rect x="581.42" y="561.5" width="1.5" height="17.6" fill="#1fa58e"/>
<rect x="578.67" y="568.4" width="7" height="4.3" fill="#1fa58e"/>
<rect x="592.30" y="566.2" width="1.5" height="26.5" fill="#f23645"/>
<rect x="589.55" y="568.1" width="7" height="15.3" fill="#f23645"/>
<rect x="603.18" y="551.2" width="1.5" height="33.6" fill="#1fa58e"/>
<rect x="600.43" y="557.4" width="7" height="26.0" fill="#1fa58e"/>
<rect x="614.06" y="529.1" width="1.5" height="38.6" fill="#1fa58e"/>
<rect x="611.31" y="543.4" width="7" height="15.0" fill="#1fa58e"/>
<rect x="624.94" y="535.5" width="1.5" height="17.4" fill="#f23645"/>
<rect x="622.19" y="543.4" width="7" height="7.8" fill="#f23645"/>
<rect x="635.82" y="509.8" width="1.5" height="42.6" fill="#1fa58e"/>
<rect x="633.07" y="510.5" width="7" height="40.7" fill="#1fa58e"/>
<rect x="646.70" y="478.0" width="1.5" height="43.9" fill="#f23645"/>
<rect x="643.95" y="511.5" width="7" height="3.3" fill="#f23645"/>
<rect x="657.59" y="491.4" width="1.5" height="28.6" fill="#f23645"/>
<rect x="654.84" y="514.3" width="7" height="5.5" fill="#f23645"/>
<rect x="668.47" y="517.6" width="1.5" height="27.9" fill="#f23645"/>
<rect x="665.72" y="518.3" width="7" height="8.6" fill="#f23645"/>
<rect x="679.35" y="522.9" width="1.5" height="28.3" fill="#f23645"/>
<rect x="676.60" y="525.8" width="7" height="14.0" fill="#f23645"/>
<rect x="690.23" y="529.3" width="1.5" height="18.6" fill="#1fa58e"/>
<rect x="687.48" y="537.2" width="7" height="2.1" fill="#1fa58e"/>
<rect x="701.11" y="527.2" width="1.5" height="48.9" fill="#f23645"/>
<rect x="698.36" y="536.9" width="7" height="31.0" fill="#f23645"/>
<rect x="711.99" y="565.1" width="1.5" height="14.7" fill="#f23645"/>
<rect x="709.24" y="566.2" width="7" height="13.2" fill="#f23645"/>
<rect x="722.87" y="572.9" width="1.5" height="9.3" fill="#1fa58e"/>
<rect x="720.12" y="577.2" width="7" height="1.5" fill="#1fa58e"/>
<rect x="733.75" y="563.6" width="1.5" height="27.9" fill="#1fa58e"/>
<rect x="731.00" y="576.1" width="7" height="2.3" fill="#1fa58e"/>
<rect x="744.63" y="558.3" width="1.5" height="25.3" fill="#1fa58e"/>
<rect x="741.88" y="572.6" width="7" height="4.6" fill="#1fa58e"/>
<rect x="755.51" y="572.2" width="1.5" height="16.2" fill="#f23645"/>
<rect x="752.76" y="572.9" width="7" height="5.7" fill="#f23645"/>
<rect x="766.39" y="570.1" width="1.5" height="27.8" fill="#1fa58e"/>
<rect x="763.64" y="577.2" width="7" height="1.5" fill="#1fa58e"/>
<rect x="777.28" y="566.5" width="1.5" height="19.0" fill="#1fa58e"/>
<rect x="774.53" y="576.9" width="7" height="1.5" fill="#1fa58e"/>
<rect x="788.16" y="576.1" width="1.5" height="21.8" fill="#f23645"/>
<rect x="785.41" y="577.2" width="7" height="19.0" fill="#f23645"/>
<rect x="799.04" y="577.2" width="1.5" height="18.6" fill="#1fa58e"/>
<rect x="796.29" y="592.9" width="7" height="2.2" fill="#1fa58e"/>
<rect x="809.92" y="585.5" width="1.5" height="15.3" fill="#1fa58e"/>
<rect x="807.17" y="590.1" width="7" height="4.3" fill="#1fa58e"/>
<rect x="820.80" y="571.2" width="1.5" height="20.0" fill="#1fa58e"/>
<rect x="818.05" y="585.5" width="7" height="5.3" fill="#1fa58e"/>
<rect x="831.68" y="568.3" width="1.5" height="18.9" fill="#1fa58e"/>
<rect x="828.93" y="570.8" width="7" height="15.7" fill="#1fa58e"/>
<rect x="842.56" y="563.6" width="1.5" height="12.5" fill="#f23645"/>
<rect x="839.81" y="571.2" width="7" height="2.4" fill="#f23645"/>
<rect x="853.44" y="569.8" width="1.5" height="25.7" fill="#f23645"/>
<rect x="850.69" y="572.9" width="7" height="21.8" fill="#f23645"/>
<rect x="864.32" y="576.1" width="1.5" height="34.0" fill="#1fa58e"/>
<rect x="861.57" y="577.5" width="7" height="16.6" fill="#1fa58e"/>
<rect x="875.21" y="568.3" width="1.5" height="19.6" fill="#1fa58e"/>
<rect x="872.46" y="570.8" width="7" height="7.8" fill="#1fa58e"/>
<rect x="886.09" y="558.3" width="1.5" height="18.2" fill="#1fa58e"/>
<rect x="883.34" y="567.9" width="7" height="4.7" fill="#1fa58e"/>
<rect x="896.97" y="563.2" width="1.5" height="54.8" fill="#f23645"/>
<rect x="894.22" y="567.9" width="7" height="49.6" fill="#f23645"/>
<rect x="907.85" y="615.8" width="1.5" height="28.6" fill="#f23645"/>
<rect x="905.10" y="616.1" width="7" height="26.2" fill="#f23645"/>
<rect x="918.73" y="620.8" width="1.5" height="28.2" fill="#f23645"/>
<rect x="915.98" y="641.3" width="7" height="7.4" fill="#f23645"/>
<rect x="929.61" y="541.7" width="1.5" height="130.6" fill="#1fa58e"/>
<rect x="926.86" y="596.2" width="7" height="52.2" fill="#1fa58e"/>
<rect x="940.49" y="585.1" width="1.5" height="34.3" fill="#f23645"/>
<rect x="937.74" y="595.8" width="7" height="20.3" fill="#f23645"/>
<rect x="951.37" y="600.8" width="1.5" height="34.8" fill="#f23645"/>
<rect x="948.62" y="614.4" width="7" height="7.9" fill="#f23645"/>
<rect x="962.25" y="566.5" width="1.5" height="56.5" fill="#1fa58e"/>
<rect x="959.50" y="576.1" width="7" height="46.2" fill="#1fa58e"/>
<rect x="973.13" y="566.5" width="1.5" height="43.6" fill="#f23645"/>
<rect x="970.38" y="576.1" width="7" height="11.8" fill="#f23645"/>
<rect x="984.01" y="570.8" width="1.5" height="27.9" fill="#1fa58e"/>
<rect x="981.26" y="580.4" width="7" height="7.1" fill="#1fa58e"/>
<rect x="994.90" y="566.5" width="1.5" height="24.3" fill="#1fa58e"/>
<rect x="992.15" y="572.6" width="7" height="9.2" fill="#1fa58e"/>
<rect x="1005.78" y="532.6" width="1.5" height="44.3" fill="#1fa58e"/>
<rect x="1003.03" y="550.8" width="7" height="23.3" fill="#1fa58e"/>
<rect x="1016.66" y="549.3" width="1.5" height="39.1" fill="#f23645"/>
<rect x="1013.91" y="550.3" width="7" height="26.9" fill="#f23645"/>
<rect x="1027.54" y="558.3" width="1.5" height="42.5" fill="#1fa58e"/>
<rect x="1024.79" y="563.2" width="7" height="14.0" fill="#1fa58e"/>
<rect x="1038.42" y="540.0" width="1.5" height="24.9" fill="#1fa58e"/>
<rect x="1035.67" y="561.8" width="7" height="2.8" fill="#1fa58e"/>
<rect x="1049.30" y="553.6" width="1.5" height="26.5" fill="#f23645"/>
<rect x="1046.55" y="561.8" width="7" height="4.7" fill="#f23645"/>
<rect x="1060.18" y="548.9" width="1.5" height="46.6" fill="#f23645"/>
<rect x="1057.43" y="564.6" width="7" height="12.6" fill="#f23645"/>
<rect x="1071.06" y="575.8" width="1.5" height="43.2" fill="#f23645"/>
<rect x="1068.31" y="576.1" width="7" height="37.2" fill="#f23645"/>
<rect x="1081.94" y="597.5" width="1.5" height="44.1" fill="#f23645"/>
<rect x="1079.19" y="611.5" width="7" height="29.8" fill="#f23645"/>
<rect x="1092.83" y="596.1" width="1.5" height="61.2" fill="#1fa58e"/>
<rect x="1090.08" y="622.3" width="7" height="18.6" fill="#1fa58e"/>
<rect x="1103.71" y="596.1" width="1.5" height="41.9" fill="#f23645"/>
<rect x="1100.96" y="622.3" width="7" height="10.7" fill="#f23645"/>
<rect x="1114.59" y="598.0" width="1.5" height="35.3" fill="#1fa58e"/>
<rect x="1111.84" y="607.0" width="7" height="26.0" fill="#1fa58e"/>
<rect x="1125.47" y="540.3" width="1.5" height="102.0" fill="#1fa58e"/>
<rect x="1122.72" y="542.9" width="7" height="65.1" fill="#1fa58e"/>
<rect x="1136.35" y="497.0" width="1.5" height="49.0" fill="#1fa58e"/>
<rect x="1133.60" y="510.3" width="7" height="35.2" fill="#1fa58e"/>
<rect x="1147.23" y="510.0" width="1.5" height="41.2" fill="#f23645"/>
<rect x="1144.48" y="510.3" width="7" height="34.7" fill="#f23645"/>
<rect x="1158.11" y="501.1" width="1.5" height="44.4" fill="#1fa58e"/>
<rect x="1155.36" y="520.0" width="7" height="25.0" fill="#1fa58e"/>
<rect x="1168.99" y="519.7" width="1.5" height="82.1" fill="#f23645"/>
<rect x="1166.24" y="520.0" width="7" height="81.5" fill="#f23645"/>
<rect x="1179.87" y="560.1" width="1.5" height="45.4" fill="#1fa58e"/>
<rect x="1177.12" y="574.1" width="7" height="27.1" fill="#1fa58e"/>
<rect x="1190.75" y="554.1" width="1.5" height="29.6" fill="#1fa58e"/>
<rect x="1188.00" y="571.2" width="7" height="4.6" fill="#1fa58e"/>
<rect x="1201.63" y="540.3" width="1.5" height="46.2" fill="#1fa58e"/>
<rect x="1198.88" y="547.9" width="7" height="24.7" fill="#1fa58e"/>
<rect x="1212.52" y="541.5" width="1.5" height="35.0" fill="#f23645"/>
<rect x="1209.77" y="547.9" width="7" height="25.0" fill="#f23645"/>
<rect x="1223.40" y="554.1" width="1.5" height="46.7" fill="#1fa58e"/>
<rect x="1220.65" y="570.9" width="7" height="1.7" fill="#1fa58e"/>
<rect x="1234.28" y="563.2" width="1.5" height="66.9" fill="#f23645"/>
<rect x="1231.53" y="571.1" width="7" height="35.9" fill="#f23645"/>
<rect x="1245.16" y="586.4" width="1.5" height="39.1" fill="#f23645"/>
<rect x="1242.41" y="605.5" width="7" height="5.2" fill="#f23645"/>
<rect x="1256.04" y="597.4" width="1.5" height="44.8" fill="#f23645"/>
<rect x="1253.29" y="610.0" width="7" height="20.1" fill="#f23645"/>
<rect x="1266.92" y="600.7" width="1.5" height="43.4" fill="#f23645"/>
<rect x="1264.17" y="628.3" width="7" height="14.3" fill="#f23645"/>
<rect x="1277.80" y="616.5" width="1.5" height="38.1" fill="#1fa58e"/>
<rect x="1275.05" y="634.6" width="7" height="8.0" fill="#1fa58e"/>
<rect x="1288.68" y="605.0" width="1.5" height="46.5" fill="#1fa58e"/>
<rect x="1285.93" y="619.3" width="7" height="16.5" fill="#1fa58e"/>
<rect x="1299.56" y="609.7" width="1.5" height="61.1" fill="#f23645"/>
<rect x="1296.81" y="619.3" width="7" height="45.1" fill="#f23645"/>
<rect x="1310.44" y="656.9" width="1.5" height="41.8" fill="#f23645"/>
<rect x="1307.69" y="662.7" width="7" height="15.7" fill="#f23645"/>
<rect x="1321.33" y="630.3" width="1.5" height="48.4" fill="#1fa58e"/>
<rect x="1318.58" y="672.2" width="7" height="6.2" fill="#1fa58e"/>
<rect x="1332.21" y="630.1" width="1.5" height="51.4" fill="#1fa58e"/>
<rect x="1329.46" y="664.1" width="7" height="9.6" fill="#1fa58e"/>
<rect x="1343.09" y="655.1" width="1.5" height="60.8" fill="#f23645"/>
<rect x="1340.34" y="664.1" width="7" height="40.3" fill="#f23645"/>
<rect x="1353.97" y="692.3" width="1.5" height="39.0" fill="#f23645"/>
<rect x="1351.22" y="703.0" width="7" height="12.1" fill="#f23645"/>
<rect x="1364.85" y="655.1" width="1.5" height="61.0" fill="#1fa58e"/>
<rect x="1362.10" y="665.8" width="7" height="50.1" fill="#1fa58e"/>
<rect x="1375.73" y="661.2" width="1.5" height="35.8" fill="#f23645"/>
<rect x="1372.98" y="665.8" width="7" height="25.0" fill="#f23645"/>
<rect x="1386.61" y="682.7" width="1.5" height="42.4" fill="#f23645"/>
<rect x="1383.86" y="689.0" width="7" height="34.3" fill="#f23645"/>
<rect x="1397.49" y="715.9" width="1.5" height="46.4" fill="#f23645"/>
<rect x="1394.74" y="721.6" width="7" height="31.4" fill="#f23645"/>
<rect x="1408.37" y="726.6" width="1.5" height="26.7" fill="#1fa58e"/>
<rect x="1405.62" y="732.3" width="7" height="20.7" fill="#1fa58e"/>
<rect x="1419.26" y="689.4" width="1.5" height="57.2" fill="#1fa58e"/>
<rect x="1416.51" y="701.6" width="7" height="32.6" fill="#1fa58e"/>
<rect x="1430.14" y="672.2" width="1.5" height="58.7" fill="#1fa58e"/>
<rect x="1427.39" y="673.2" width="7" height="29.8" fill="#1fa58e"/>
<rect x="1441.02" y="653.2" width="1.5" height="43.8" fill="#f23645"/>
<rect x="1438.27" y="673.7" width="7" height="21.8" fill="#f23645"/>
<rect x="1451.90" y="653.2" width="1.5" height="45.5" fill="#1fa58e"/>
<rect x="1449.15" y="664.1" width="7" height="31.4" fill="#1fa58e"/>
<rect x="1462.78" y="644.1" width="1.5" height="35.7" fill="#1fa58e"/>
<rect x="1460.03" y="647.2" width="7" height="18.6" fill="#1fa58e"/>
<rect x="1473.66" y="639.3" width="1.5" height="19.1" fill="#f23645"/>
<rect x="1470.91" y="647.2" width="7" height="10.7" fill="#f23645"/>
<rect x="1484.54" y="634.8" width="1.5" height="25.2" fill="#1fa58e"/>
<rect x="1481.79" y="649.1" width="7" height="9.1" fill="#1fa58e"/>
<rect x="1495.42" y="641.0" width="1.5" height="22.4" fill="#f23645"/>
<rect x="1492.67" y="648.8" width="7" height="14.3" fill="#f23645"/>
<rect x="1506.30" y="650.2" width="1.5" height="26.6" fill="#1fa58e"/>
<rect x="1503.55" y="658.2" width="7" height="4.6" fill="#1fa58e"/>
<rect x="1517.18" y="655.4" width="1.5" height="38.7" fill="#f23645"/>
<rect x="1514.43" y="658.2" width="7" height="35.6" fill="#f23645"/>
<rect x="1528.07" y="670.1" width="1.5" height="32.8" fill="#f23645"/>
<rect x="1525.32" y="692.2" width="7" height="4.7" fill="#f23645"/>
<rect x="1538.95" y="694.5" width="1.5" height="18.6" fill="#f23645"/>
<rect x="1536.20" y="695.0" width="7" height="17.7" fill="#f23645"/>
<rect x="1549.83" y="693.6" width="1.5" height="22.9" fill="#f23645"/>
<rect x="1547.08" y="710.6" width="7" height="1.7" fill="#f23645"/>
<rect x="1560.71" y="698.3" width="1.5" height="33.0" fill="#f23645"/>
<rect x="1557.96" y="710.9" width="7" height="1.8" fill="#f23645"/>
<rect x="1571.59" y="591.5" width="1.5" height="122.8" fill="#1fa58e"/>
<rect x="1568.84" y="619.4" width="7" height="94.7" fill="#1fa58e"/>
<rect x="1582.47" y="609.7" width="1.5" height="41.5" fill="#f23645"/>
<rect x="1579.72" y="619.0" width="7" height="16.1" fill="#f23645"/>
<rect x="1593.35" y="574.3" width="1.5" height="60.8" fill="#1fa58e"/>
<rect x="1590.60" y="576.1" width="7" height="58.7" fill="#1fa58e"/>
<rect x="1604.23" y="549.1" width="1.5" height="29.4" fill="#1fa58e"/>
<rect x="1601.48" y="553.7" width="7" height="23.8" fill="#1fa58e"/>
<rect x="1615.11" y="551.9" width="1.5" height="33.6" fill="#f23645"/>
<rect x="1612.36" y="553.7" width="7" height="11.2" fill="#f23645"/>
<rect x="1625.99" y="563.1" width="1.5" height="30.0" fill="#f23645"/>
<rect x="1623.24" y="563.5" width="7" height="29.4" fill="#f23645"/>
<rect x="1636.87" y="583.4" width="1.5" height="20.2" fill="#f23645"/>
<rect x="1634.12" y="591.7" width="7" height="3.5" fill="#f23645"/>
<rect x="1647.76" y="573.8" width="1.5" height="34.7" fill="#f23645"/>
<rect x="1645.01" y="594.8" width="7" height="2.5" fill="#f23645"/>
<rect x="1658.64" y="591.5" width="1.5" height="23.7" fill="#f23645"/>
<rect x="1655.89" y="596.2" width="7" height="18.6" fill="#f23645"/>
<rect x="1669.52" y="608.5" width="1.5" height="6.0" fill="#1fa58e"/>
<rect x="1666.77" y="613.4" width="7" height="1.5" fill="#1fa58e"/>
</g>
<!-- tv logo -->
<circle cx="183" cy="736" r="31.500" fill="#161a25" stroke="#434754" stroke-width="2"/>
<rect x="162.900" y="725.600" width="17.800" height="8" fill="#fff"/><rect x="171.800" y="725.600" width="8.900" height="21.500" fill="#fff"/>
<circle cx="185.500" cy="729.300" r="3.100" fill="#fff"/>
<rect x="413.24" y="725.600" width="11.600" height="21.500" fill="#fff" transform="skewX(-17)"/>
<!-- settings hex -->
<g fill="none" stroke="#c5c8d0" stroke-width="2" stroke-linejoin="round"><path d="M1816.500 820 L1823.200 808 H1836.800 L1843.500 820 L1836.800 832 H1823.200 Z"/><circle cx="1830" cy="820" r="3.600"/></g>
<!-- floating toolbar -->
<rect x="362" y="848" width="192" height="71.500" rx="9" fill="#1e222d"/>
<g fill="#3b3f4c"><rect x="376" y="874" width="3" height="3"/><rect x="388" y="874" width="3" height="3"/><rect x="376" y="883" width="3" height="3"/><rect x="388" y="883" width="3" height="3"/><rect x="376" y="892" width="3" height="3"/><rect x="388" y="892" width="3" height="3"/></g>
<g fill="none" stroke="#c5c8d0" stroke-width="1.800" stroke-linecap="round" stroke-linejoin="round">
<path d="M426 865.700 H456.500 M433 904 H464 M444.700 904 V871 M441 875.500 L444.700 870 L448.400 875.500"/><circle cx="460.500" cy="865.700" r="3.600" fill="#1e222d"/><circle cx="429" cy="904" r="3.600" fill="#1e222d"/>
<path d="M499.500 885 H515 M523 885 H538.500"/><circle cx="519" cy="885" r="3.600"/>
</g>
<path d="M1672.500 862V906" stroke="#343845" stroke-width="1.500"/>
<path d="M1880 896 L1858 918 M1880 904 L1866 918 M1880 912 L1874 918" stroke="#3e4250" stroke-width="1.800"/>
<!-- price label -->
<rect x="1776" y="597" width="94.500" height="33.500" rx="2" fill="#1b9d86"/>
</svg>
<div class="t pt" style="transform:scaleX(0.9263);transform-origin:0 50%;left:17px;top:18.5px;font-size:29px;color:#d6d8de">ADAUSDT · 5 · BYBIT FUTURES</div>
<div class="abs" style="left:454px;top:17px;width:27px;height:27px;border-radius:50%;background:#173a3b"></div>
<div class="abs" style="left:461px;top:24px;width:13px;height:13px;border-radius:50%;background:#1fb28f"></div>
<div class="t lg" style="transform:scaleX(0.9790);transform-origin:0 50%;left:515px">ОТКР</div><div class="t lg v" style="transform:scaleX(1.0081);transform-origin:0 50%;left:579px">0.9382</div>
<div class="t lg" style="transform:scaleX(0.9695);transform-origin:0 50%;left:666px">МАКС</div><div class="t lg v" style="transform:scaleX(1.0217);transform-origin:0 50%;left:733px">0.9389</div>
<div class="t lg" style="transform:scaleX(0.9711);transform-origin:0 50%;left:819px">МИН</div><div class="t lg v" style="transform:scaleX(1.0217);transform-origin:0 50%;left:874px">0.9378</div>
<div class="t lg" style="transform:scaleX(0.9421);transform-origin:0 50%;left:961px">ЗАКР</div><div class="t lg v" style="transform:scaleX(1.0081);transform-origin:0 50%;left:1021px">0.9382</div>
<div class="t lg v" style="transform:scaleX(1.0217);transform-origin:0 50%;left:1108px">0.0000</div><div class="t lg v" style="transform:scaleX(0.9756);transform-origin:0 50%;left:1192px">(0.00%)</div>
<div class="t pa" style="transform:scaleX(0.9949);transform-origin:0 50%;left:1663px;top:46px">0.9600</div>
<div class="t pa" style="transform:scaleX(0.9949);transform-origin:0 50%;left:1663px;top:154px">0.9400</div>
<div class="t pa" style="transform:scaleX(0.9949);transform-origin:0 50%;left:1663px;top:261px">0.9200</div>
<div class="abs" style="left:1648px;top:161px;width:94px;height:31px;background:#1b9d86"></div>
<div class="t pa" style="transform:scaleX(0.9949);transform-origin:0 50%;left:1663px;top:164px;color:#fff">0.9382</div>
<div class="t ta" style="transform:scaleX(0.9490);transform-origin:0 50%;left:121px">10:30</div>
<div class="t ta hb" style="transform:scaleX(1.0156);transform-origin:0 50%;left:315px">12:00</div>
<div class="t ta" style="transform:scaleX(0.9490);transform-origin:0 50%;left:512px">13:30</div>
<div class="t ta hb" style="transform:scaleX(1.0156);transform-origin:0 50%;left:707px">15:00</div>
<div class="t ta" style="transform:scaleX(0.9490);transform-origin:0 50%;left:904px">16:30</div>
<div class="t ta hb" style="transform:scaleX(1.0156);transform-origin:0 50%;left:1098px">18:00</div>
<div class="t ta" style="transform:scaleX(0.9490);transform-origin:0 50%;left:1296px">19:30</div>
<div class="t ta hb" style="transform:scaleX(1.0323);transform-origin:0 50%;left:1489px">21:00</div>
<div class="t bb" style="transform:scaleX(0.9823);transform-origin:0 50%;left:27px">3м</div>
<div class="t bb" style="transform:scaleX(0.9526);transform-origin:0 50%;left:84px">1м</div>
<div class="t bb" style="transform:scaleX(1.0071);transform-origin:0 50%;left:139px">5д</div>
<div class="t bb" style="transform:scaleX(0.9746);transform-origin:0 50%;left:193px">1д</div>
<div class="t bb" style="transform:scaleX(0.9776);transform-origin:0 50%;left:1311px">21:13:33 (UTC+3)</div>
<div class="t bb" style="transform:scaleX(0.9577);transform-origin:0 50%;left:1566px">%</div>
<div class="t bb" style="transform:scaleX(0.9775);transform-origin:0 50%;left:1615px">лог</div>
<div class="t bb" style="transform:scaleX(0.9667);transform-origin:0 50%;left:1680px;color:#2f60f2">авто</div>

</div>
</div>

<!-- ================= TABS ================= -->
<div class="t tab" style="transform:scaleX(1.0644);transform-origin:0 50%;left:17px;color:#fff;font-weight:700;-webkit-text-stroke:0">Результат</div>
<div class="abs" style="left:18px;top:992px;width:114px;height:4px;border-radius:2px;background:#fff"></div>
<div class="t tab" style="transform:scaleX(1.1549);transform-origin:0 50%;left:163px">Графики</div>
<div class="t tab" style="transform:scaleX(1.0295);transform-origin:0 50%;left:295px">Сделки (111)</div>
<div class="t tab" style="transform:scaleX(1.1866);transform-origin:0 50%;left:459px">Настройки</div>
<div class="abs" style="left:1678px;top:948px;width:205px;height:46px;border-radius:9px;background:#2a2c35"></div>
<div class="t" style="transform:scaleX(1.0414);transform-origin:0 50%;left:1692px;top:962px;font-size:17px;font-weight:700;color:#fff">Период бэктеста</div>
<div class="abs" style="left:1853px;top:967px;width:0;height:0;border-left:6px solid transparent;border-right:6px solid transparent;border-top:8px solid #fff"></div>


<!-- ================= CARDS ================= -->
<div class="card" style="left:18px">
<div class="ic"><svg width="38" height="38" viewBox="0 0 38 38"><path d="M9 24 L15.5 15.5 L22 21.5 L29 13.5" fill="none" stroke="#43c463" stroke-width="2.6" stroke-linecap="round" stroke-linejoin="round"/></svg></div>
<h3 style="transform:scaleX(1.0306);transform-origin:0 50%;">Прибыль</h3><div class="hr"></div>
<div class="row" style="top:94px"><span style="transform:scaleX(1.1479);transform-origin:0 50%;">Эффективность в день (USDT)</span><b style="transform:scaleX(0.9444);transform-origin:100% 50%;">1.1521</b></div>
<div class="row" style="top:140px"><span style="transform:scaleX(1.1175);transform-origin:0 50%;">Gross (ADA)</span><b style="transform:scaleX(1.1981);transform-origin:100% 50%;">0</b></div>
<div class="row" style="top:187px"><span style="transform:scaleX(1.0877);transform-origin:0 50%;">Gross (USDT)</span><b style="transform:scaleX(1.0534);transform-origin:100% 50%;">111.5869</b></div>
<div class="row" style="top:233px"><span style="transform:scaleX(1.1170);transform-origin:0 50%;">Net (USDT)</span><b style="transform:scaleX(1.1986);transform-origin:100% 50%;">99.4034</b></div>
<div class="row" style="top:280px"><span style="transform:scaleX(1.1653);transform-origin:0 50%;">Комиссия USDT</span><b style="transform:scaleX(1.0449);transform-origin:100% 50%;">12.1834</b></div>
<div class="row" style="top:328px"><span style="transform:scaleX(1.1743);transform-origin:0 50%;">МПП</span><div class="info" style="left:58px"></div><b style="transform:scaleX(1.0565);transform-origin:100% 50%;">5.5351 USDT / 2.18%</b></div>
</div>
<div class="card" style="left:492px">
<div class="ic"><svg width="38" height="38" viewBox="0 0 38 38" fill="none" stroke-width="2.4" stroke-linecap="round" stroke-linejoin="round"><path d="M10 13.5 H27 M22 8.5 L27 13.5 L22 18.5" stroke="#5b8bf7"/><path d="M28 24.5 H11 M16 19.5 L11 24.5 L16 29.5" stroke="#3f57a8"/></svg></div>
<h3 style="transform:scaleX(1.0398);transform-origin:0 50%;">Сделки</h3><div class="hr"></div>
<div class="row" style="top:94px"><span style="transform:scaleX(1.2075);transform-origin:0 50%;">Всего</span><b style="transform:scaleX(0.8201);transform-origin:100% 50%;">111</b></div>
<div class="row" style="top:140px"><span style="transform:scaleX(1.1681);transform-origin:0 50%;">Объем</span><b style="transform:scaleX(1.0769);transform-origin:100% 50%;">15935.89 USDT</b></div>
<div class="row" style="top:187px"><span style="transform:scaleX(1.2110);transform-origin:0 50%;">Тейк-профиты</span><b style="transform:scaleX(0.9640);transform-origin:100% 50%;">110</b></div>
</div>
<div class="card" style="left:967px">
<div class="ic"><svg width="38" height="38" viewBox="0 0 38 38"><rect x="6.5" y="15" width="4" height="9" rx="1" fill="#b07a2a"/><rect x="7.8" y="12" width="1.4" height="15" fill="#b07a2a"/><rect x="15.5" y="10" width="6" height="18" rx="1.5" fill="#f5a623"/><rect x="17.6" y="6" width="1.8" height="26" fill="#f5a623"/><rect x="26.5" y="14" width="4" height="10" rx="1" fill="#d8922a"/><rect x="27.8" y="11" width="1.4" height="16" fill="#d8922a"/></svg></div>
<h3 style="transform:scaleX(1.0459);transform-origin:0 50%;">Свечи</h3><div class="hr"></div>
<div class="row" style="top:94px"><span style="transform:scaleX(1.2236);transform-origin:0 50%;">Биржа</span><b style="transform:scaleX(1.0257);transform-origin:100% 50%;">Bybit Futures</b></div>
<div class="row" style="top:140px"><span style="transform:scaleX(1.1877);transform-origin:0 50%;">Интервал</span><b style="transform:scaleX(0.9994);transform-origin:100% 50%;">1М</b></div>
<div class="row" style="top:187px"><span style="transform:scaleX(1.1946);transform-origin:0 50%;">Торговая пара</span><b style="transform:scaleX(1.0227);transform-origin:100% 50%;">ADAUSDT</b></div>
<div class="row" style="top:233px"><span style="transform:scaleX(1.2041);transform-origin:0 50%;">Количество баров</span><b style="transform:scaleX(1.1485);transform-origin:100% 50%;">264957</b></div>
<div class="row" style="top:281px"><span style="transform:scaleX(1.1996);transform-origin:0 50%;">Фитиль <span style="position:static;font-size:15px;vertical-align:1px">↑</span> (макс.)</span><div class="info" style="left:173px"></div><b style="transform:scaleX(1.0724);transform-origin:100% 50%;">1.9%</b></div>
<div class="row" style="top:331px"><span style="transform:scaleX(1.2079);transform-origin:0 50%;">Фитиль <span style="position:static;font-size:15px;vertical-align:1px">↑</span> (медиана)</span><div class="info" style="left:208px"></div><b style="transform:scaleX(1.1916);transform-origin:100% 50%;">0%</b></div>
</div>
<div class="card" style="left:1441px">
<div class="ic" style="background:#80828f"><svg width="38" height="38" viewBox="0 0 38 38"><path d="M18.5 12 V19 L22.5 22" fill="none" stroke="#fff" stroke-width="2.6" stroke-linecap="round" stroke-linejoin="round"/></svg></div>
<h3 style="transform:scaleX(1.0419);transform-origin:0 50%;">Время</h3><div class="hr"></div>
<div class="row" style="top:94px"><span style="transform:scaleX(1.1950);transform-origin:0 50%;">Длительность бэктеста</span><b style="transform:scaleX(1.0687);transform-origin:100% 50%;">6 месяцев</b></div>
<div class="row" style="top:140px"><span style="transform:scaleX(1.1940);transform-origin:0 50%;">Среднее время в сделке</span><b style="transform:scaleX(1.0185);transform-origin:100% 50%;">19 часов</b></div>
<div class="row" style="top:187px"><span style="transform:scaleX(1.1873);transform-origin:0 50%;">Макс. время в сделке</span><b style="transform:scaleX(1.0618);transform-origin:100% 50%;">8 дней</b></div>
<div class="row" style="top:233px"><span style="transform:scaleX(1.1969);transform-origin:0 50%;">Мин. время в сделке</span><b style="transform:scaleX(1.0391);transform-origin:100% 50%;">2 минуты</b></div>
</div>


</div></div>
</body>
</html>
